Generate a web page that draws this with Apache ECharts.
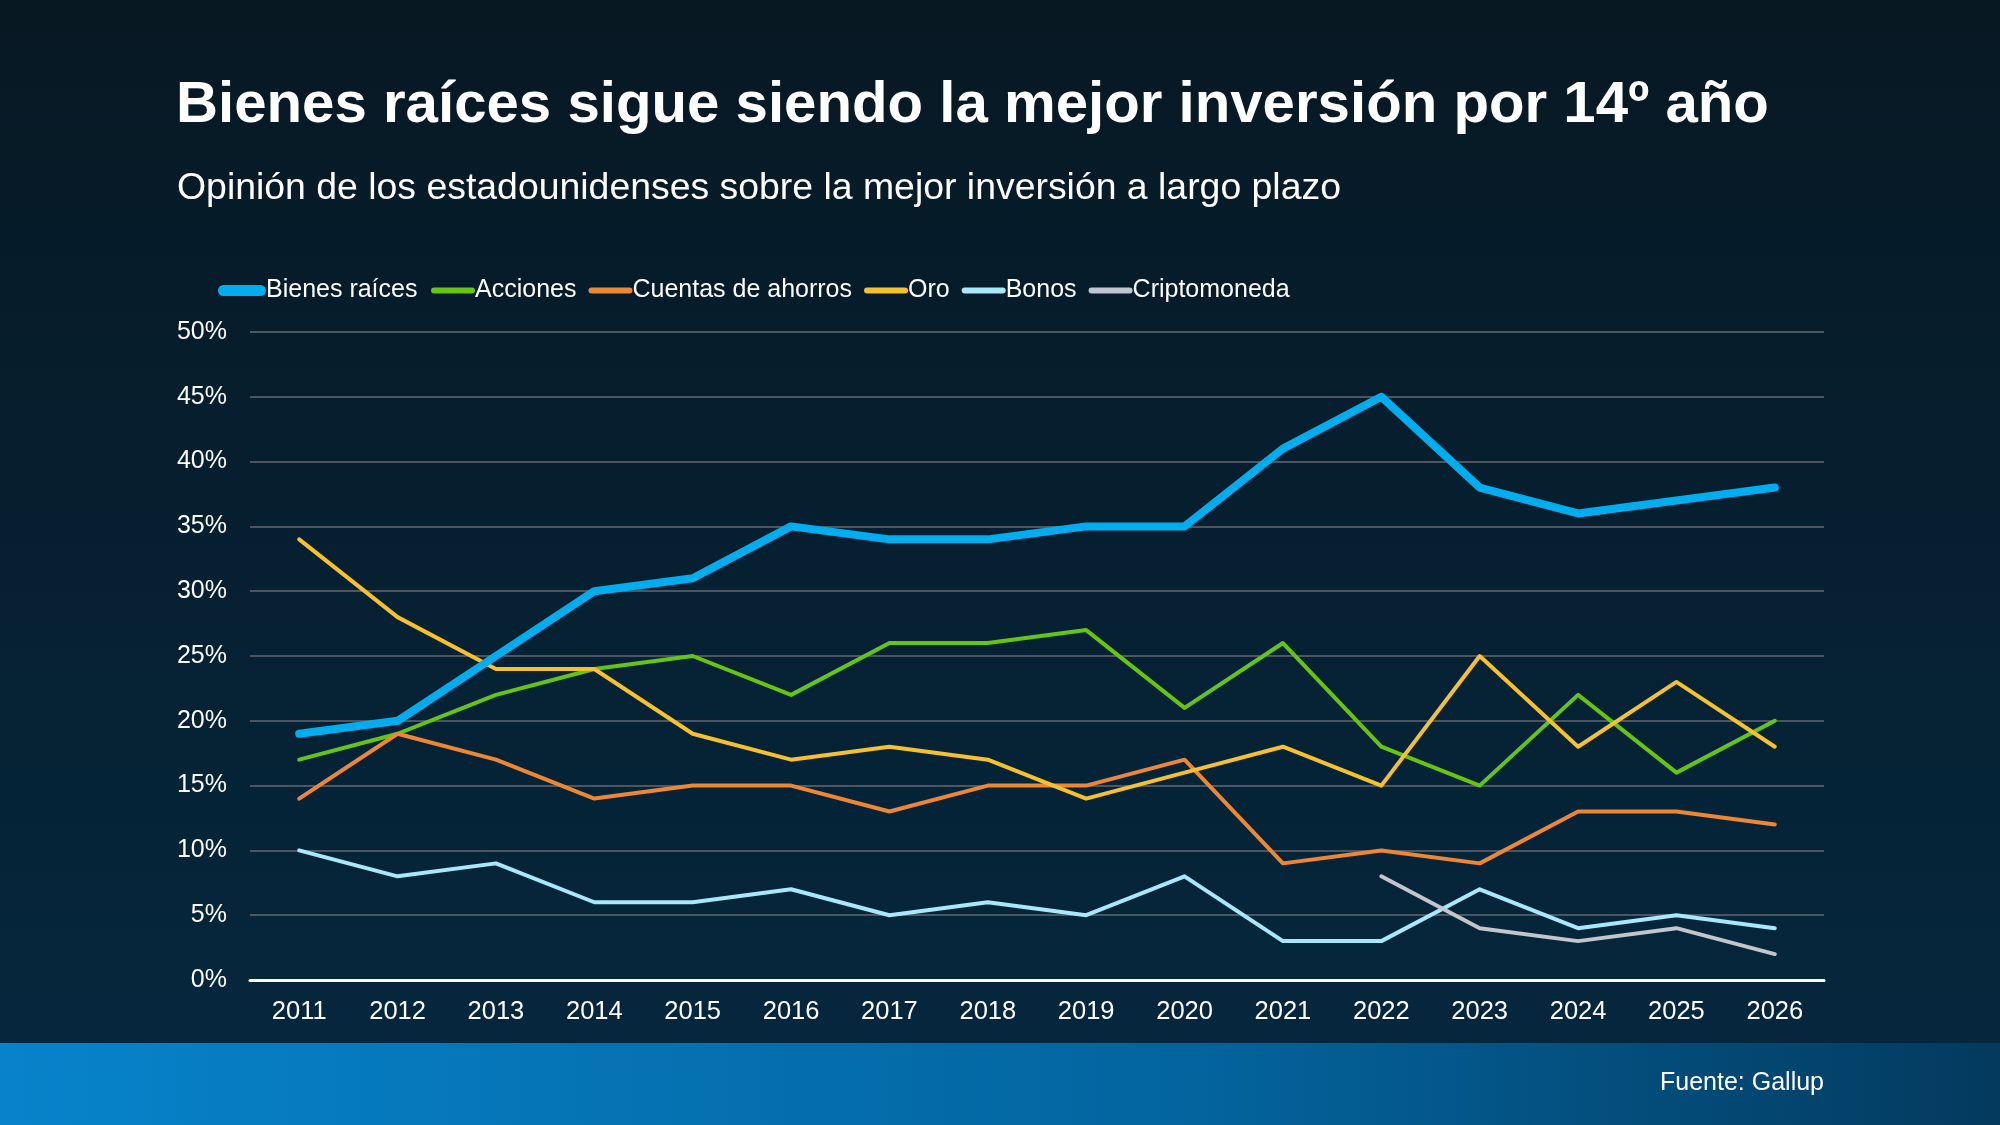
<!DOCTYPE html>
<html>
<head>
<meta charset="utf-8">
<script src="https://cdn.jsdelivr.net/npm/echarts@6/dist/echarts.min.js"></script>
<style>
  html, body { margin: 0; padding: 0; }
  #chart { width: 2000px; height: 1125px; }
</style>
</head>
<body>
<div id="chart"></div>
<script>
const years = ['2011', '2012', '2013', '2014', '2015', '2016', '2017', '2018',
  '2019', '2020', '2021', '2022', '2023', '2024', '2025', '2026']

const bienesRaices = [19, 20, 25, 30, 31, 35, 34, 34, 35, 35, 41, 45, 38, 36, 37, 38]
const acciones = [17, 19, 22, 24, 25, 22, 26, 26, 27, 21, 26, 18, 15, 22, 16, 20]
const cuentasAhorros = [14, 19, 17, 14, 15, 15, 13, 15, 15, 17, 9, 10, 9, 13, 13, 12]
const oro = [34, 28, 24, 24, 19, 17, 18, 17, 14, 16, 18, 15, 25, 18, 23, 18]
const bonos = [10, 8, 9, 6, 6, 7, 5, 6, 5, 8, 3, 3, 7, 4, 5, 4]
const cripto = [null, null, null, null, null, null, null, null, null, null, null, 8, 4, 3, 4, 2]

const font = '"Liberation Sans", Arial, Helvetica, sans-serif'

const seriesDefs = [
  { name: 'Bienes raíces', data: bienesRaices, color: '#00aeef', width: 8 },
  { name: 'Acciones', data: acciones, color: '#66c413', width: 4 },
  { name: 'Cuentas de ahorros', data: cuentasAhorros, color: '#ee8733', width: 4 },
  { name: 'Oro', data: oro, color: '#f6c12e', width: 4 },
  { name: 'Bonos', data: bonos, color: '#a9e7fb', width: 4 },
  { name: 'Criptomoneda', data: cripto, color: '#c2c5cc', width: 4 },
]

// capsule shaped legend icons, thick one for the main series
const thickIcon = 'path://M5.5,0 L42.5,0 A5.5,5.5 0 0 1 42.5,11 L5.5,11 A5.5,5.5 0 0 1 5.5,0 Z'
const thinIcon = 'path://M3,0 L41,0 A3,3 0 0 1 41,6 L3,6 A3,3 0 0 1 3,0 Z'

const legendText = { color: '#ffffff', fontSize: 25, fontFamily: font, padding: [0, 0, 0, -5] }

const chart = echarts.init(document.getElementById('chart'))

chart.setOption({
  backgroundColor: new echarts.graphic.LinearGradient(0, 0, 0, 1, [
    { offset: 0, color: '#071823' },
    { offset: 1, color: '#05283f' },
  ]),
  graphic: [
    {
      type: 'rect',
      left: 0,
      top: 1043,
      shape: { width: 2000, height: 82 },
      style: {
        fill: new echarts.graphic.LinearGradient(0, 0, 1, 0, [
          { offset: 0, color: '#0783cb' },
          { offset: 0.6, color: '#03649e' },
          { offset: 1, color: '#033a5e' },
        ]),
      },
    },
    {
      type: 'text',
      right: 176,
      top: 1071,
      style: {
        text: 'Fuente: Gallup',
        fill: '#ffffff',
        font: '25px ' + font,
      },
    },
  ],
  title: [
    {
      text: 'Bienes raíces sigue siendo la mejor inversión por 14º año',
      left: 171,
      top: 72,
      textStyle: { color: '#ffffff', fontSize: 58.2, fontWeight: 'bold', fontFamily: font },
    },
    {
      text: 'Opinión de los estadounidenses sobre la mejor inversión a largo plazo',
      left: 172,
      top: 165,
      textStyle: { color: '#ffffff', fontSize: 37.4, fontWeight: 'normal', fontFamily: font },
    },
  ],
  legend: [
    {
      left: 213,
      top: 273,
      itemWidth: 48,
      itemHeight: 11,
      textStyle: legendText,
      data: [{ name: 'Bienes raíces', icon: thickIcon }],
    },
    {
      left: 426,
      top: 273,
      itemWidth: 44,
      itemHeight: 6,
      itemGap: 12,
      textStyle: legendText,
      data: seriesDefs.slice(1).map((s) => ({ name: s.name, icon: thinIcon })),
    },
  ],
  grid: {
    left: 250,
    right: 176,
    top: 332,
    bottom: 145,
    containLabel: false,
  },
  xAxis: {
    type: 'category',
    data: years,
    axisLine: { lineStyle: { color: '#ffffff', width: 3 } },
    axisTick: { show: false },
    axisLabel: { color: '#ffffff', fontSize: 25.5, fontFamily: font, margin: 19 },
  },
  yAxis: {
    type: 'value',
    min: 0,
    max: 50,
    interval: 5,
    axisLine: { show: false },
    axisTick: { show: false },
    splitLine: { lineStyle: { color: '#4d5660', width: 2 } },
    axisLabel: {
      color: '#ffffff',
      fontSize: 25,
      fontFamily: font,
      margin: 23,
      formatter: '{value}%',
    },
  },
  series: seriesDefs.map((s) => ({
    name: s.name,
    type: 'line',
    data: s.data,
    symbol: 'none',
    z: s.name === 'Bienes raíces' ? 5 : 2,
    color: s.color,
    lineStyle: { color: s.color, width: s.width, cap: 'round', join: 'round' },
  })),
})
</script>
</body>
</html>
